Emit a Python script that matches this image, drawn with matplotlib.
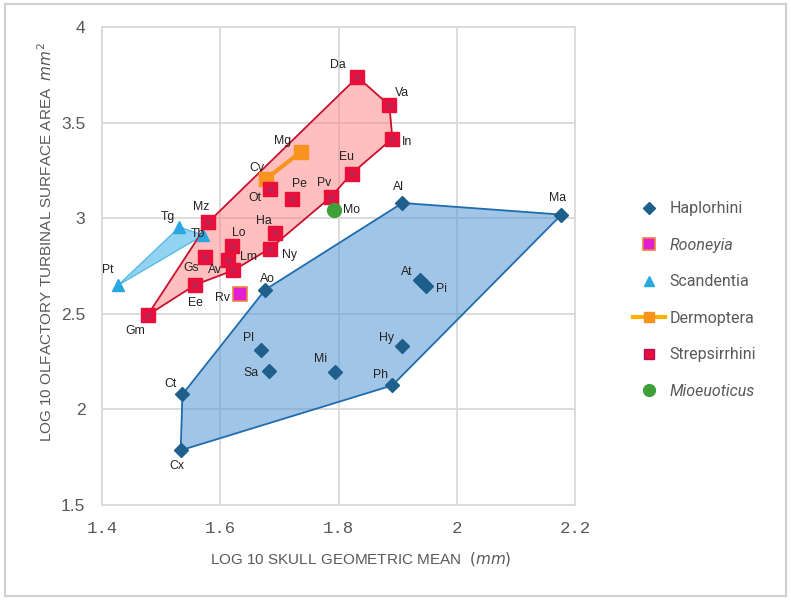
import numpy as np
import matplotlib.pyplot as plt
from matplotlib.patches import Polygon, Rectangle

# data (log10 skull GM, log10 turbinal area)
hap_names = ['Cx', 'Ct', 'Ao', 'Al', 'Ma', 'Ph', 'Pl', 'Sa', 'Mi', 'Hy', 'At', 'Pi']
hap_x = [1.533, 1.536, 1.676, 1.908, 2.177, 1.891, 1.668, 1.682, 1.794, 1.907, 1.938, 1.948]
hap_y = [1.784, 2.077, 2.625, 3.079, 3.018, 2.124, 2.311, 2.197, 2.192, 2.332, 2.674, 2.642]
hap_hull = ['Cx', 'Ct', 'Ao', 'Al', 'Ma', 'Ph']

str_names = ['Gm', 'Mz', 'Da', 'Va', 'In', 'Eu', 'Pv', 'Ny', 'Av', 'Ee',
             'Ot', 'Pe', 'Ha', 'Lo', 'Gs', 'Lm']
str_x = [1.477, 1.580, 1.832, 1.886, 1.891, 1.822, 1.787, 1.684, 1.622, 1.558,
         1.684, 1.721, 1.692, 1.620, 1.574, 1.613]
str_y = [2.491, 2.979, 3.738, 3.590, 3.416, 3.232, 3.110, 2.840, 2.726, 2.651,
         3.154, 3.098, 2.921, 2.852, 2.796, 2.779]
str_hull = ['Gm', 'Mz', 'Da', 'Va', 'In', 'Eu', 'Pv', 'Ny', 'Av', 'Ee']

sca_names = ['Pt', 'Tg', 'Tb']
sca_x = [1.427, 1.531, 1.571]
sca_y = [2.648, 2.953, 2.910]

der_names = ['Cv', 'Mg']
der_x = [1.678, 1.736]
der_y = [3.206, 3.346]

roo_names = ['Rv']
roo_x = [1.633]
roo_y = [2.604]

mio_names = ['Mo']
mio_x = [1.792]
mio_y = [3.040]

# label offsets in pixels (dx, dy)
offs = {
    'Da': (-20, 12), 'Va': (13, 12), 'In': (15, -3), 'Mg': (-18, 11), 'Cv': (-10, 11),
    'Ot': (-15, -9), 'Pe': (8, 15), 'Pv': (-7, 14), 'Eu': (-5, 17), 'Mo': (18, 0),
    'Mz': (-7, 15), 'Tg': (-12, 10), 'Tb': (-5, 1), 'Ha': (-11, 12), 'Lo': (7, 13),
    'Ny': (20, -6), 'Gs': (-14, -11), 'Lm': (21, 3), 'Av': (-18, 0), 'Ee': (0, -18),
    'Rv': (-17, -4), 'Ao': (2, 11), 'Gm': (-12, -16), 'Pt': (-10, 15), 'Al': (-4, 16),
    'Pl': (-12, 12), 'Sa': (-18, -2), 'Mi': (-14, 13), 'Hy': (-15, 8), 'Ph': (-12, 10),
    'Ct': (-12, 10), 'Cx': (-4, -16), 'At': (-13, 8), 'Pi': (15, -3), 'Ma': (-4, 17),
}

fig = plt.figure(figsize=(7.91, 6), dpi=100)
ax = fig.add_axes([0.129, 0.159, 0.598, 0.796])
fig.patches.append(Rectangle((0.006, 0.007), 0.988, 0.986, transform=fig.transFigure,
                             fill=False, ec='#d0d0d0', lw=1.5))

def pts(names, xs, ys, keys):
    d = dict(zip(names, zip(xs, ys)))
    return [d[k] for k in keys]

ax.add_patch(Polygon(pts(sca_names, sca_x, sca_y, sca_names), closed=True,
                     fc='#86cff0', ec='#4fb8e6', lw=1, alpha=0.9, zorder=2))
ax.add_patch(Polygon(pts(hap_names, hap_x, hap_y, hap_hull), closed=True,
                     fc='#5b9bd5', alpha=0.58, ec='none', zorder=2))
ax.add_patch(Polygon(pts(hap_names, hap_x, hap_y, hap_hull), closed=True,
                     fill=False, ec='#1f6cae', lw=1.3, zorder=3))
ax.add_patch(Polygon(pts(str_names, str_x, str_y, str_hull), closed=True,
                     fc='#ff8080', alpha=0.5, ec='none', zorder=2))
ax.add_patch(Polygon(pts(str_names, str_x, str_y, str_hull), closed=True,
                     fill=False, ec='#c8102e', lw=1.3, zorder=3))

ax.plot(hap_x, hap_y, 'D', ms=7, color='#1f5f8b', ls='none', zorder=5, label='Haplorhini')
ax.plot(roo_x, roo_y, 's', ms=10, mfc='#e020d0', mec='#f08040', mew=1.2, ls='none',
        zorder=5, label='Rooneyia')
ax.plot(sca_x, sca_y, '^', ms=8, color='#29a8e0', ls='none', zorder=5, label='Scandentia')
ax.plot(der_x, der_y, '-s', ms=10, color='#f7931e', lw=3, mec='#f7931e', zorder=4)
ax.plot(str_x, str_y, 's', ms=10, mfc='#e8103a', mec='#e8103a', ls='none', zorder=5)
ax.plot(str_x, str_y, 'x', ms=5, color='#a0306a', mew=0.8, ls='none', zorder=6)
ax.plot(mio_x, mio_y, 'o', ms=10, color='#3fa03a', ls='none', zorder=5, label='Mioeuoticus')

all_n = hap_names + str_names + sca_names + der_names + roo_names + mio_names
all_x = hap_x + str_x + sca_x + der_x + roo_x + mio_x
all_y = hap_y + str_y + sca_y + der_y + roo_y + mio_y
for n, x, y in zip(all_n, all_x, all_y):
    dx, dy = offs[n]
    ax.annotate(n, (x, y), xytext=(dx, dy), textcoords='offset pixels',
                ha='center', va='center', fontsize=8.8, color='#222222',
                family='Liberation Sans', zorder=7)

ax.set_xlim(1.4, 2.2)
ax.set_ylim(1.5, 4)
ax.set_xticks([1.4, 1.6, 1.8, 2.0, 2.2])
ax.set_xticklabels(['1.4', '1.6', '1.8', '2', '2.2'])
ax.set_yticks([1.5, 2, 2.5, 3, 3.5, 4])
ax.set_yticklabels(['1.5', '2', '2.5', '3', '3.5', '4'])
ax.grid(True, color='#d9d9d9', lw=1.3)
ax.set_axisbelow(True)
for s in ax.spines.values():
    s.set_color('#d9d9d9')
    s.set_linewidth(1.3)
ax.tick_params(length=0, colors='#595959', labelsize=12.5, pad=12)
for t in ax.get_xticklabels():
    t.set_family('Liberation Mono')
for t in ax.get_yticklabels():
    t.set_family('Liberation Sans')

ax.set_xlabel(r'LOG 10 SKULL GEOMETRIC MEAN  $\it{(mm)}$', fontsize=11,
              color='#595959', family='Liberation Sans', labelpad=10)
ax.set_ylabel(r'LOG 10 OLFACTORY TURBINAL SURFACE AREA  $\it{mm^2}$', fontsize=11,
              color='#595959', family='Liberation Sans', labelpad=4)
ax.xaxis.label.set_x(0.548)
ax.yaxis.label.set_y(0.55)

# legend proxies
h_der, = ax.plot([], [], '-s', ms=9, color='#ffb000', lw=3, mfc='#f7931e', mec='#f7931e')
h_str, = ax.plot([], [], 's', ms=9, mfc='#e8103a', mec='#b01060', ls='none')
hs, ls = ax.get_legend_handles_labels()
hd = dict(zip(ls, hs))
handles = [hd['Haplorhini'], hd['Rooneyia'], hd['Scandentia'], h_der, h_str,
           hd['Mioeuoticus']]
labels = ['Haplorhini', 'Rooneyia', 'Scandentia', 'Dermoptera', 'Strepsirrhini', 'Mioeuoticus']
leg = fig.legend(handles, labels, loc='center left', bbox_to_anchor=(0.782, 0.5),
                 frameon=False, fontsize=11.5, labelspacing=1.35, handlelength=2.0,
                 handletextpad=0.3, markerscale=0.85)
for t in leg.get_texts():
    t.set_color('#595959')
    t.set_family('Roboto')
    if t.get_text() in ('Rooneyia', 'Mioeuoticus'):
        t.set_style('italic')

fig.savefig('out.png', dpi=100)
